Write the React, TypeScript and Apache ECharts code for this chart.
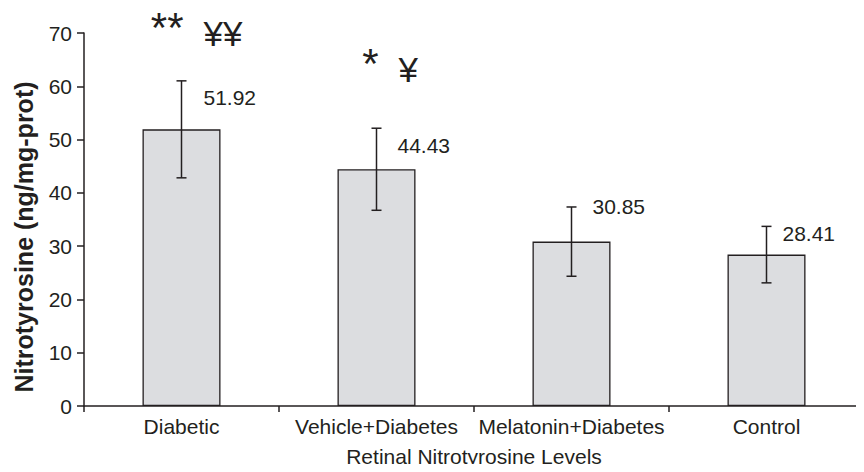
import React, { useEffect, useRef } from "react";
import * as echarts from "echarts";

const categories = ["Diabetic", "Vehicle+Diabetes", "Melatonin+Diabetes", "Control"];
const means = [51.92, 44.43, 30.85, 28.41];
const errors = [9.1, 7.7, 6.5, 5.3];
const stars = ["**", "*", "", ""];
const yens = ["¥¥", "¥", "", ""];
const yTicks = { min: 0, max: 70, interval: 10 };
const xTitle = "Retinal Nitrotyrosine Levels";
const yTitle = "Nitrotyrosine (ng/mg-prot)";

// layout offsets (pixels) for annotation texts, relative to the error-bar top
const labelDy = [17, 17, 0, 7];
const labelDx = [22, 21, 21, 16];
const yenDy = [-65, -76, 0, 0];
const starDy = [-74, -86, 0, 0];

const FONT = "'Liberation Sans', Arial, Helvetica, sans-serif";
const INK = "#231f20";

export default function App() {
  const ref = useRef<HTMLDivElement>(null);
  useEffect(() => {
    if (!ref.current) return;
    const chart = echarts.init(ref.current, null, { renderer: "svg" });
    const errData = means.map((m, i) => [i, m - errors[i], m + errors[i], m]);
    chart.setOption({
      animation: false,
      textStyle: { fontFamily: FONT, color: INK },
      grid: { left: 84, right: -9, top: 33, bottom: 62, containLabel: false },
      xAxis: {
        type: "category",
        data: categories,
        boundaryGap: true,
        axisLine: { lineStyle: { color: INK, width: 1.5 } },
        axisTick: { show: true, length: 6, lineStyle: { color: INK, width: 1.5 } },
        axisLabel: { color: INK, fontSize: 21, fontFamily: FONT, margin: 10, interval: 0 },
        name: xTitle,
        nameLocation: "middle",
        nameGap: 40,
        nameTextStyle: { color: INK, fontSize: 21, fontFamily: FONT },
      },
      yAxis: {
        type: "value",
        min: yTicks.min,
        max: yTicks.max,
        interval: yTicks.interval,
        splitLine: { show: false },
        axisLine: { show: true, lineStyle: { color: INK, width: 1.5 } },
        axisTick: { show: true, length: 7, lineStyle: { color: INK, width: 1.5 } },
        axisLabel: { color: INK, fontSize: 21, fontFamily: FONT, margin: 12 },
      },
      graphic: [
        {
          type: "text",
          x: 24,
          y: 237,
          rotation: Math.PI / 2,
          style: {
            text: yTitle,
            fill: INK,
            fontSize: 25,
            fontWeight: "bold",
            fontFamily: FONT,
            align: "center",
            verticalAlign: "middle",
          },
        },
      ],
      series: [
        {
          type: "bar",
          data: means,
          barWidth: "40%",
          itemStyle: { color: "#dcdde0", borderColor: INK, borderWidth: 1.3 },
          z: 2,
        },
        {
          type: "custom",
          data: errData,
          z: 3,
          clip: false,
          renderItem: (params: any, api: any) => {
            const i = params.dataIndex;
            const x = api.value(0);
            const lo = api.coord([x, api.value(1)]);
            const hi = api.coord([x, api.value(2)]);
            const cx = lo[0];
            const cap = 5;
            const lineStyle = { stroke: INK, lineWidth: 1.5 };
            const children: any[] = [
              { type: "line", shape: { x1: cx, y1: hi[1], x2: cx, y2: lo[1] }, style: lineStyle },
              { type: "line", shape: { x1: cx - cap, y1: hi[1], x2: cx + cap, y2: hi[1] }, style: lineStyle },
              { type: "line", shape: { x1: cx - cap, y1: lo[1], x2: cx + cap, y2: lo[1] }, style: lineStyle },
              {
                type: "text",
                x: cx + labelDx[i],
                y: hi[1] + labelDy[i],
                style: {
                  text: api.value(3).toFixed(2),
                  fill: INK,
                  fontSize: 21,
                  fontFamily: FONT,
                  align: "left",
                  verticalAlign: "middle",
                },
              },
            ];
            if (stars[i]) {
              children.push({
                type: "text",
                x: cx + 2,
                y: hi[1] + starDy[i],
                style: { text: stars[i], fill: INK, fontSize: 42, fontFamily: FONT, align: "right", verticalAlign: "top" },
              });
            }
            if (yens[i]) {
              children.push({
                type: "text",
                x: cx + 22,
                y: hi[1] + yenDy[i],
                style: { text: yens[i], fill: INK, fontSize: 35, fontFamily: FONT, align: "left", verticalAlign: "top" },
              });
            }
            return { type: "group", children };
          },
        },
      ],
    });
    return () => chart.dispose();
  }, []);
  return <div ref={ref} style={{ width: 864, height: 472, margin: -8 }} />;
}
